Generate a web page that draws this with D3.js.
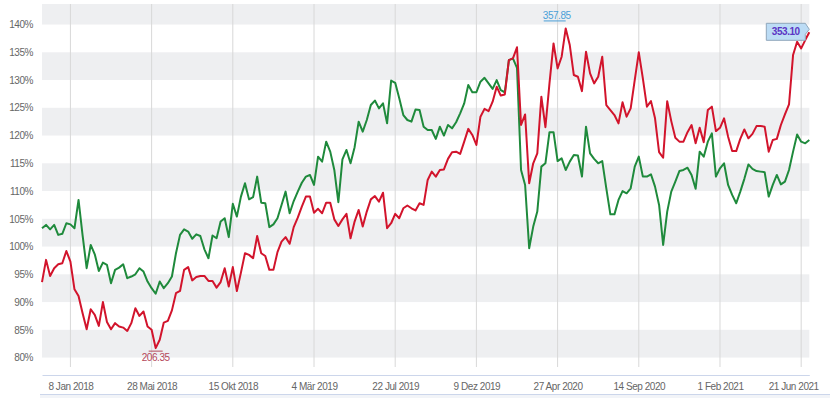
<!DOCTYPE html>
<html lang="de">
<head>
  <meta charset="UTF-8">
  <title>Kursvergleich</title>
  <style>
    body { margin: 0; background: #fff; }
    svg { display: block; font-family: "Liberation Sans", Arial, sans-serif; }
    svg text { font-size: 10px; letter-spacing: -0.45px; }
  </style>
  <script src="https://d3js.org/d3.v7.min.js"></script>
</head>
<body>
<script>
// weekly closes, first week starts 20 Nov 2017
var firstWeek = "2017-11-20";

var redValues = [
  93.6, 97.6, 94.7, 96.1, 96.8, 97.0, 99.2, 97.3, 92.3, 91.1,
  88.0, 85.1, 88.7, 87.7, 85.7, 90.0, 86.4, 85.1, 86.2, 85.6,
  85.4, 84.8, 86.2, 88.9, 87.5, 88.3, 85.6, 85.0, 81.7, 83.2,
  86.3, 86.6, 88.5, 91.6, 92.0, 95.8, 96.3, 93.9, 94.5, 94.7,
  94.7, 93.8, 93.8, 92.6, 93.6, 96.1, 92.8, 96.3, 92.0, 95.3,
  98.8, 98.5, 97.9, 101.9, 98.8, 98.3, 95.8, 95.8, 99.0, 100.9,
  101.7, 100.5, 103.5, 105.2, 107.2, 109.0, 109.0, 106.1, 106.8, 106.0,
  107.9, 107.9, 104.9, 103.7, 104.9, 105.9, 101.5, 104.5, 106.6, 103.6,
  106.3, 108.5, 109.1, 108.1, 109.7, 103.3, 104.2, 105.9, 105.1, 106.9,
  107.4, 106.9, 106.5, 107.8, 107.5, 112.0, 113.5, 112.6, 113.8, 113.9,
  115.8, 117.0, 117.1, 116.7, 118.9, 121.2, 120.1, 118.3, 123.4, 124.8,
  124.4, 126.1, 128.8, 127.2, 127.4, 133.6, 133.9, 135.9, 121.9, 123.8,
  111.4, 115.0, 116.8, 127.0, 121.5, 129.4, 136.6, 132.1, 134.2, 139.3,
  136.3, 130.9, 130.6, 128.0, 135.1, 131.2, 129.4, 130.6, 134.2, 125.5,
  124.6, 123.7, 122.2, 126.0, 123.4, 124.9, 130.0, 135.0, 130.3, 125.2,
  126.2, 123.1, 117.0, 116.0, 126.2, 122.6, 119.6, 118.9, 118.9, 120.6,
  121.9, 118.6, 121.4, 118.8, 124.6, 125.2, 120.8, 121.4, 123.1, 119.8,
  117.2, 117.2, 119.4, 121.1, 119.5, 120.3, 121.7, 121.7, 121.6, 117.1,
  119.2, 119.4, 121.9, 123.8, 125.6, 134.5, 136.9, 135.7, 137.2, 138.6
];

var greenValues = [
  103.3, 103.9, 103.1, 103.9, 102.1, 102.3, 104.2, 104.0, 103.3, 108.4,
  102.0, 96.1, 100.3, 98.6, 95.6, 97.1, 96.7, 93.4, 95.8, 96.2,
  96.8, 94.3, 94.6, 95.0, 96.1, 95.5, 93.7, 92.5, 91.5, 93.7,
  92.5, 93.4, 94.6, 98.8, 102.1, 103.1, 102.7, 101.4, 102.2, 101.9,
  99.5, 97.9, 102.0, 101.5, 104.5, 105.1, 101.7, 107.7, 105.4, 109.0,
  111.4, 108.5, 108.9, 112.6, 107.9, 107.8, 103.5, 104.0, 105.1, 107.5,
  109.9, 106.0, 108.2, 109.9, 111.5, 112.6, 112.9, 111.1, 116.2, 115.3,
  118.9, 117.1, 113.8, 108.0, 115.7, 117.4, 115.0, 117.9, 122.5, 120.7,
  122.8, 125.5, 126.3, 124.9, 125.8, 122.2, 129.9, 129.5, 126.7, 123.7,
  122.8, 122.5, 124.7, 124.6, 121.6, 121.0, 121.0, 119.4, 121.6, 120.0,
  121.9, 121.3, 122.4, 124.0, 125.8, 129.1, 127.8, 127.8, 129.7, 130.4,
  129.4, 128.4, 130.0, 128.2, 127.8, 133.6, 133.9, 132.2, 113.8, 111.1,
  99.7, 103.6, 106.3, 114.4, 115.0, 120.6, 120.6, 115.4, 115.9, 113.8,
  115.3, 116.5, 116.4, 112.6, 121.6, 116.8, 115.8, 115.0, 115.4, 110.5,
  105.8, 105.8, 108.4, 110.0, 109.6, 110.5, 114.4, 116.2, 112.6, 112.6,
  113.0, 110.8, 107.5, 100.3, 106.3, 109.9, 111.7, 113.6, 113.8, 114.2,
  112.9, 110.4, 117.1, 116.2, 118.9, 120.4, 112.6, 114.1, 115.0, 111.1,
  109.3, 107.8, 109.9, 112.2, 114.8, 114.0, 113.6, 113.5, 113.4, 109.0,
  111.1, 112.9, 111.2, 111.7, 113.8, 117.1, 120.2, 118.9, 118.6, 119.2
];

var tickDates = ["2018-01-08", "2018-05-28", "2018-10-15", "2019-03-04", "2019-07-22",
                 "2019-12-09", "2020-04-27", "2020-09-14", "2021-02-01", "2021-06-21"];
var tickLabels = ["8 Jan 2018", "28 Mai 2018", "15 Okt 2018", "4 Mär 2019", "22 Jul 2019",
                  "9 Dez 2019", "27 Apr 2020", "14 Sep 2020", "1 Feb 2021", "21 Jun 2021"];
var yTicks = [80, 85, 90, 95, 100, 105, 110, 115, 120, 125, 130, 135, 140];

var minLabel = "206.35", maxLabel = "357.85", lastLabel = "353.10";

var width = 830, height = 398;
// plot box ("top" is taken by window.top, so other names)
var plotL = 42, plotR = 809.3, plotT = 4, plotB = 367;

var parse = d3.timeParse("%Y-%m-%d");
var start = parse(firstWeek);
var dates = redValues.map(function (v, i) { return d3.timeWeek.offset(start, i); });
var ticks = tickDates.map(parse);

var x = d3.scaleTime().domain([start, dates[dates.length - 1]]).range([plotL, plotR]);
var y = d3.scaleLinear().domain([78.3, 143.7]).range([plotB, plotT]);

var svg = d3.select("body").append("svg")
  .attr("width", width)
  .attr("height", height);

// alternating bands
var bands = [80, 90, 100, 110, 120, 130, 140];
svg.append("g").selectAll("rect").data(bands).enter().append("rect")
  .attr("x", plotL)
  .attr("width", plotR - plotL)
  .attr("y", function (d) { return Math.max(plotT, y(d + 5)); })
  .attr("height", function (d) { return y(d) - Math.max(plotT, y(d + 5)); })
  .attr("fill", "#eeeff1");

// vertical grid
svg.append("g").selectAll("line").data(ticks).enter().append("line")
  .attr("x1", function (d) { return x(d); })
  .attr("x2", function (d) { return x(d); })
  .attr("y1", plotT)
  .attr("y2", plotB)
  .attr("stroke", "#d8d8d8")
  .attr("stroke-width", 1);

// axes
var yAxis = d3.axisLeft(y).tickValues(yTicks).tickSize(0).tickPadding(9)
  .tickFormat(function (d) { return d + "%"; });
var gy = svg.append("g").attr("transform", "translate(" + plotL + ",0)").call(yAxis);
gy.select(".domain").remove();
gy.attr("font-size", null).attr("font-family", null);
gy.selectAll("text").attr("fill", "#666");

var xAxis = d3.axisBottom(x).tickValues(ticks).tickSize(0).tickSizeOuter(0).tickPadding(8)
  .tickFormat(function (d, i) { return tickLabels[i]; });
var gx = svg.append("g").attr("transform", "translate(0,375)").call(xAxis);
gx.attr("font-size", null).attr("font-family", null);
gx.select(".domain").attr("stroke", "#ccd6eb");
gx.selectAll("text").attr("fill", "#666");
// keep the last label inside the frame
gx.selectAll("text").filter(function (d, i) { return i === ticks.length - 1; }).attr("dx", -8);

// navigator edge
svg.append("rect").attr("x", 40).attr("y", 394).attr("width", 790).attr("height", 4).attr("fill", "#f2f4f8");
svg.append("line").attr("x1", 40).attr("x2", 830).attr("y1", 394.5).attr("y2", 394.5)
  .attr("stroke", "#ccd6eb");

svg.append("clipPath").attr("id", "plot").append("rect")
  .attr("x", plotL - 2).attr("y", plotT).attr("width", plotR - plotL + 4).attr("height", plotB - plotT);

var line = d3.line()
  .x(function (d, i) { return x(dates[i]); })
  .y(function (d) { return y(d); });

var plot = svg.append("g").attr("clip-path", "url(#plot)");
plot.append("path").datum(greenValues)
  .attr("d", line).attr("fill", "none")
  .attr("stroke", "#1f8a3c").attr("stroke-width", 2).attr("stroke-linejoin", "round");
plot.append("path").datum(redValues)
  .attr("d", line).attr("fill", "none")
  .attr("stroke", "#d2142c").attr("stroke-width", 2).attr("stroke-linejoin", "round");

// min / max flags
var iMin = d3.minIndex(redValues), iMax = d3.maxIndex(redValues);
var mx = x(dates[iMin]), my = y(redValues[iMin]);
svg.append("line").attr("x1", mx - 7).attr("x2", mx + 7).attr("y1", my + 3).attr("y2", my + 3)
  .attr("stroke", "#b5485a");
svg.append("text").attr("x", mx).attr("y", my + 13).attr("text-anchor", "middle")
  .attr("fill", "#b5485a").text(minLabel);

var hx = x(dates[iMax]), hy = y(redValues[iMax]);
svg.append("line").attr("x1", hx - 22).attr("x2", hx).attr("y1", hy - 7.5).attr("y2", hy - 7.5)
  .attr("stroke", "#4a9fd8");
svg.append("text").attr("x", hx - 9).attr("y", hy - 9.5).attr("text-anchor", "middle")
  .attr("fill", "#4a9fd8").text(maxLabel);

// last value callout
var n = redValues.length - 1;
var lx = x(dates[n]), ly = y(redValues[n]);
svg.append("path")
  .attr("d", "M" + (lx - 43) + "," + (ly - 9) + "H" + (lx - 4) + "L" + lx + "," + (ly - 3) +
    "L" + (lx - 4) + "," + (ly + 2) + "V" + (ly + 8) + "H" + (lx - 43) + "Z")
  .attr("fill", "#bcdcf5").attr("stroke", "#8fa7bb").attr("stroke-width", 1);
svg.append("text").attr("x", lx - 23.5).attr("y", ly + 3).attr("text-anchor", "middle")
  .attr("fill", "#5b35c4").style("font-weight", "bold").text(lastLabel);
</script>
</body>
</html>
